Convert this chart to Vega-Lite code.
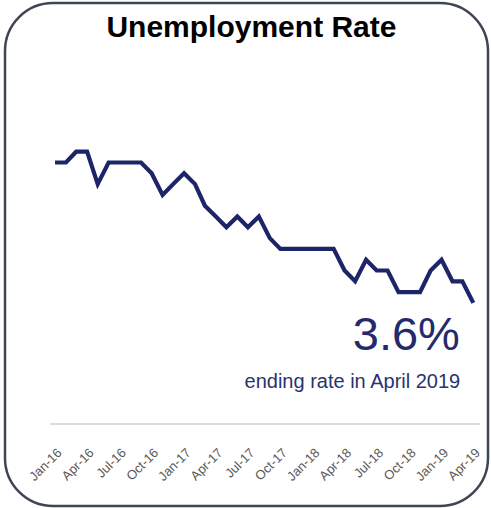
{
  "$schema": "https://vega.github.io/schema/vega-lite/v6.json",
  "width": 483,
  "height": 503,
  "autosize": "none",
  "padding": {"left": 5, "top": 3, "right": 3, "bottom": 2},
  "background": "white",
  "config": {
    "view": {"stroke": "#3e4655", "strokeWidth": 2.5, "cornerRadius": 48, "fill": "white"},
    "axisX": {
      "labelOverlap": false,
      "labelSeparation": -20,
      "labelFont": "Liberation Sans, Arial, sans-serif",
      "labelFontSize": 13,
      "labelColor": "#595959",
      "labelAngle": -45,
      "labelAlign": "right",
      "labelBaseline": "top",
      "labelPadding": 0,
      "domain": false,
      "ticks": false,
      "grid": false,
      "title": null
    }
  },
  "datasets": {
    "rate": [
      {"month": "2016-01-01", "rate": 4.9}, {"month": "2016-02-01", "rate": 4.9}, {"month": "2016-03-01", "rate": 5.0},
      {"month": "2016-04-01", "rate": 5.0}, {"month": "2016-05-01", "rate": 4.7}, {"month": "2016-06-01", "rate": 4.9},
      {"month": "2016-07-01", "rate": 4.9}, {"month": "2016-08-01", "rate": 4.9}, {"month": "2016-09-01", "rate": 4.9},
      {"month": "2016-10-01", "rate": 4.8}, {"month": "2016-11-01", "rate": 4.6}, {"month": "2016-12-01", "rate": 4.7},
      {"month": "2017-01-01", "rate": 4.8}, {"month": "2017-02-01", "rate": 4.7}, {"month": "2017-03-01", "rate": 4.5},
      {"month": "2017-04-01", "rate": 4.4}, {"month": "2017-05-01", "rate": 4.3}, {"month": "2017-06-01", "rate": 4.4},
      {"month": "2017-07-01", "rate": 4.3}, {"month": "2017-08-01", "rate": 4.4}, {"month": "2017-09-01", "rate": 4.2},
      {"month": "2017-10-01", "rate": 4.1}, {"month": "2017-11-01", "rate": 4.1}, {"month": "2017-12-01", "rate": 4.1},
      {"month": "2018-01-01", "rate": 4.1}, {"month": "2018-02-01", "rate": 4.1}, {"month": "2018-03-01", "rate": 4.1},
      {"month": "2018-04-01", "rate": 3.9}, {"month": "2018-05-01", "rate": 3.8}, {"month": "2018-06-01", "rate": 4.0},
      {"month": "2018-07-01", "rate": 3.9}, {"month": "2018-08-01", "rate": 3.9}, {"month": "2018-09-01", "rate": 3.7},
      {"month": "2018-10-01", "rate": 3.7}, {"month": "2018-11-01", "rate": 3.7}, {"month": "2018-12-01", "rate": 3.9},
      {"month": "2019-01-01", "rate": 4.0}, {"month": "2019-02-01", "rate": 3.8}, {"month": "2019-03-01", "rate": 3.8},
      {"month": "2019-04-01", "rate": 3.6}
    ]
  },
  "layer": [
    {
      "data": {"name": "rate"},
      "mark": {"type": "line", "color": "#1d2468", "strokeWidth": 4.2},
      "encoding": {
        "x": {
          "field": "month",
          "type": "temporal",
          "scale": {
            "type": "utc",
            "domain": [
              {"year": 2015, "month": 8, "date": 12, "hours": 5, "utc": true},
              {"year": 2019, "month": 5, "date": 12, "hours": 17, "utc": true}
            ],
            "nice": false
          },
          "axis": {
            "title": null,
            "format": "%b-%y",
            "tickCount": {"interval": "month", "step": 3},
            "labelExpr": "utcyear(datum.value) < 2016 ? '' : datum.label",
            "offset": -60,
            "labelOverlap": false,
            "labelFontSize": 13,
            "encode": {"labels": {"update": {"fontSize": {"value": 13}}}}
          }
        },
        "y": {
          "field": "rate",
          "type": "quantitative",
          "scale": {"domain": [1.7194, 6.3769], "nice": false, "zero": false},
          "axis": null
        }
      }
    },
    {
      "data": {"values": [{}]},
      "mark": {"type": "rule", "color": "#dcdcdc", "strokeWidth": 2},
      "encoding": {
        "x": {"datum": {"year": 2015, "month": 12, "date": 18, "utc": true}, "type": "temporal"},
        "x2": {"datum": {"year": 2019, "month": 4, "date": 20, "utc": true}},
        "y": {"datum": 2.479, "type": "quantitative", "axis": null}
      }
    },
    {
      "data": {"values": [{}]},
      "mark": {
        "type": "text",
        "text": "Unemployment Rate",
        "align": "center",
        "baseline": "alphabetic",
        "font": "Liberation Sans, Arial, sans-serif",
        "fontSize": 30,
        "fontWeight": "bold",
        "color": "#000000"
      },
      "encoding": {
        "x": {"datum": {"year": 2017, "month": 7, "date": 11, "utc": true}, "type": "temporal"},
        "y": {"datum": 6.059, "type": "quantitative", "axis": null}
      }
    },
    {
      "data": {"values": [{}]},
      "mark": {
        "type": "text",
        "text": "3.6%",
        "align": "right",
        "baseline": "alphabetic",
        "font": "Liberation Sans, Arial, sans-serif",
        "fontSize": 47,
        "color": "#252a6e"
      },
      "encoding": {
        "x": {"datum": {"year": 2019, "month": 2, "date": 22, "utc": true}, "type": "temporal"},
        "y": {"datum": 3.164, "type": "quantitative", "axis": null}
      }
    },
    {
      "data": {"values": [{}]},
      "mark": {
        "type": "text",
        "text": "ending rate in April 2019",
        "align": "right",
        "baseline": "alphabetic",
        "font": "Liberation Sans, Arial, sans-serif",
        "fontSize": 20,
        "color": "#2b3270"
      },
      "encoding": {
        "x": {"datum": {"year": 2019, "month": 2, "date": 23, "utc": true}, "type": "temporal"},
        "y": {"datum": 2.809, "type": "quantitative", "axis": null}
      }
    }
  ]
}
